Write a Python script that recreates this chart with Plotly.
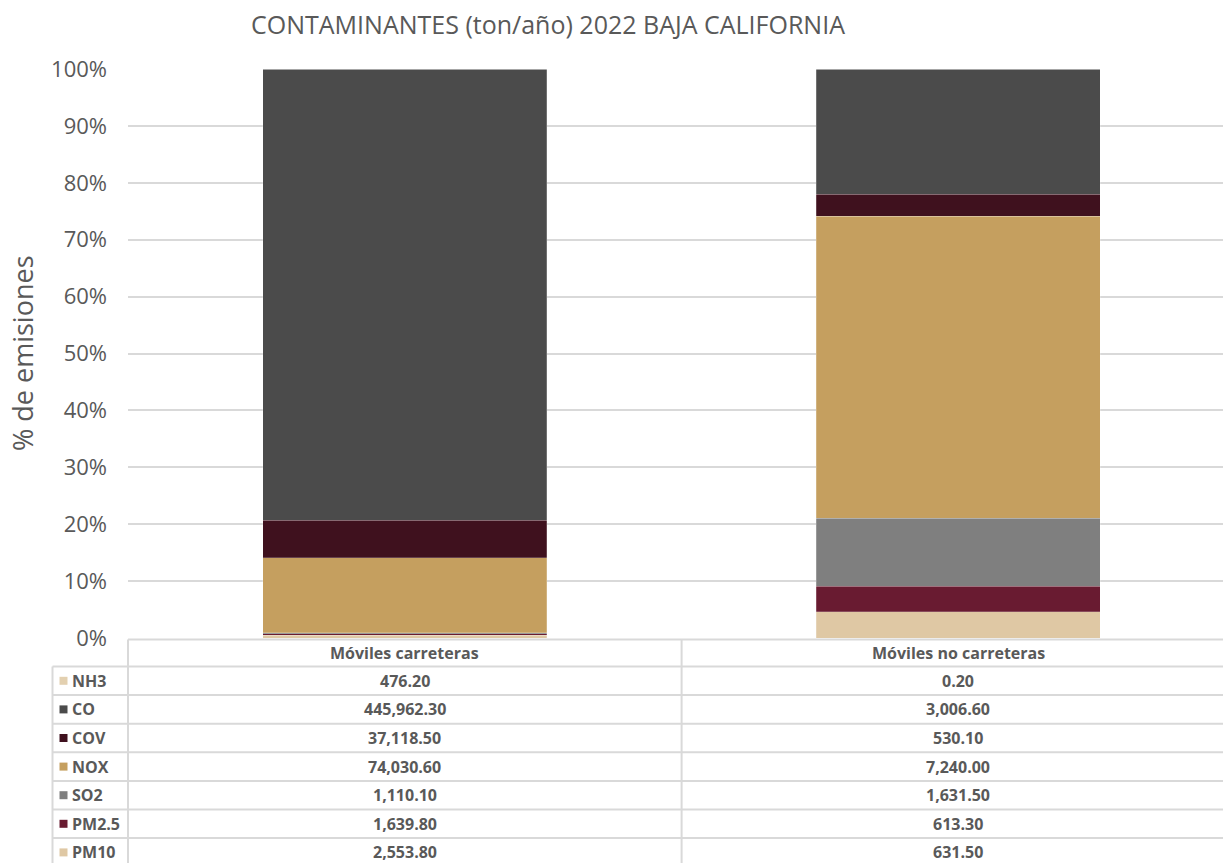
import plotly.graph_objects as go

# ---------------- data ----------------
categories = ["Móviles carreteras", "Móviles no carreteras"]
# stack order bottom -> top
pollutants = ["PM10", "PM2.5", "SO2", "NOX", "COV", "CO", "NH3"]
pm10 = [2553.80, 631.50]
pm25 = [1639.80, 613.30]
so2 = [1110.10, 1631.50]
nox = [74030.60, 7240.00]
cov = [37118.50, 530.10]
co = [445962.30, 3006.60]
nh3 = [476.20, 0.20]
series_values = [pm10, pm25, so2, nox, cov, co, nh3]
colors = ["#DFC8A4", "#691B31", "#7F7F7F", "#C59F5F", "#3F111E", "#4B4B4B", "#E3D0B0"]
y_ticks = [0, 10, 20, 30, 40, 50, 60, 70, 80, 90, 100]
y_tick_labels = [f"{v}%" for v in y_ticks]
title_text = "CONTAMINANTES (ton/año) 2022 BAJA CALIFORNIA"
y_title = "% de emisiones"

FONT = "Open Sans"
TXT = "#595959"
GRID = "#D9D9D9"

W, H = 1223, 863
ML, MR, MT, MB = 128, 0, 69, 225
PW = W - ML - MR
PH = H - MT - MB
X_RANGE = [-0.5, 1.478]


def py(ypx):
    return (H - MB - ypx) / PH


def pxp(xpx):
    return (xpx - ML) / PW


def xdata_to_paper(xd):
    return (xd - X_RANGE[0]) / (X_RANGE[1] - X_RANGE[0])


fig = go.Figure()
for name, vals, col in zip(pollutants, series_values, colors):
    fig.add_trace(go.Bar(
        x=categories, y=vals, name=name,
        marker=dict(color=col, line=dict(color="rgba(255,255,255,0.35)", width=0.6)),
        width=0.513, showlegend=False,
    ))

shapes = []
annotations = []

# ---------------- data table ----------------
header_top = 639.5
header_bot = 666.5
row_h = 28.6
rows = list(reversed(pollutants))
row_vals = list(reversed(series_values))
row_cols = list(reversed(colors))
n = len(rows)
bottom = header_bot + n * row_h
x_left_px = 52.5
line = dict(color=GRID, width=2)
right_p = 1.0
shapes.append(dict(type="line", xref="paper", yref="paper", x0=0, x1=right_p,
                   y0=py(header_top), y1=py(header_top), line=line))
for k in range(n + 1):
    yk = header_bot + k * row_h
    shapes.append(dict(type="line", xref="paper", yref="paper", x0=pxp(x_left_px), x1=right_p,
                       y0=py(yk), y1=py(yk), line=line))
shapes.append(dict(type="line", xref="paper", yref="paper", x0=pxp(x_left_px), x1=pxp(x_left_px),
                   y0=py(header_bot), y1=py(bottom), line=line))
shapes.append(dict(type="line", xref="paper", yref="paper", x0=0, x1=0,
                   y0=py(header_top), y1=py(bottom), line=line))
for i in range(len(categories) - 1):
    xb = xdata_to_paper(i + 0.5)
    shapes.append(dict(type="line", xref="paper", yref="paper", x0=xb, x1=xb,
                       y0=py(header_top), y1=py(bottom), line=line))

TFS = 16
for i, c in enumerate(categories):
    annotations.append(dict(x=i, xref="x", y=py((header_top + header_bot) / 2), yref="paper",
                            text=f"<b>{c}</b>", showarrow=False, xanchor="center", yanchor="middle",
                            font=dict(family=FONT, size=TFS, color=TXT)))

for r, (name, vals, col) in enumerate(zip(rows, row_vals, row_cols)):
    yc = header_bot + (r + 0.5) * row_h
    shapes.append(dict(type="rect", xref="paper", yref="paper", x0=pxp(59.5), x1=pxp(67.5),
                       y0=py(yc - 4), y1=py(yc + 4), fillcolor=col, line=dict(width=0)))
    annotations.append(dict(x=pxp(69.5), xref="paper", y=py(yc), yref="paper",
                            text=f"<b>{name}</b>", showarrow=False, xanchor="left", yanchor="middle",
                            font=dict(family=FONT, size=TFS, color=TXT)))
    for i, v in enumerate(vals):
        annotations.append(dict(x=i, xref="x", y=py(yc), yref="paper",
                                text=f"<b>{v:,.2f}</b>", showarrow=False, xanchor="center",
                                yanchor="middle", font=dict(family=FONT, size=TFS, color=TXT)))

annotations.append(dict(x=pxp(22), xref="paper", y=py(353), yref="paper", text=y_title,
                        textangle=-90, showarrow=False, xanchor="center", yanchor="middle",
                        font=dict(family=FONT, size=27, color=TXT)))

fig.update_layout(
    width=W, height=H,
    margin=dict(l=ML, r=MR, t=MT, b=MB),
    barmode="stack", barnorm="percent",
    paper_bgcolor="white", plot_bgcolor="white",
    title=dict(text=title_text, x=548 / W, xanchor="center", y=1 - 25 / H, yanchor="middle",
               xref="container", yref="container",
               font=dict(family=FONT, size=25, color=TXT)),
    xaxis=dict(range=X_RANGE, showticklabels=False, showgrid=False, zeroline=False,
               showline=False, fixedrange=True),
    yaxis=dict(range=[0, 100], tickmode="array", tickvals=y_ticks, ticktext=y_tick_labels,
               showgrid=True, gridcolor=GRID, gridwidth=1.5, zeroline=False, showline=False,
               tickfont=dict(family=FONT, size=22, color=TXT), ticklabelstandoff=20),
    shapes=shapes, annotations=annotations,
)

fig.write_html("out.html", config={"displayModeBar": False},
               post_script="document.body.style.margin='0';document.body.style.overflow='hidden';")
